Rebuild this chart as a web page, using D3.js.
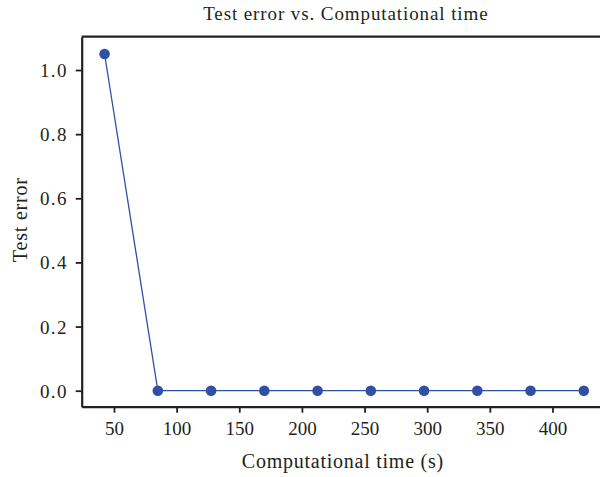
<!DOCTYPE html>
<html>
<head>
<meta charset="utf-8">
<script src="https://cdn.jsdelivr.net/npm/d3@7"></script>
<style>
  html, body { margin: 0; padding: 0; background: #fff; }
  svg { display: block; }
  text { font-family: "Liberation Serif", "Times New Roman", serif; fill: #231f20; }
</style>
</head>
<body>
<svg id="chart" width="600" height="477"></svg>
<script>
// Computational time (s) and the matching test error
const times = [42.5, 85, 127.5, 170, 212.5, 255, 297.5, 340, 382.5, 425];
const errors = [1.05, 0, 0, 0, 0, 0, 0, 0, 0, 0];
const xTicks = [50, 100, 150, 200, 250, 300, 350, 400];
const yTicks = [0, 0.2, 0.4, 0.6, 0.8, 1.0];

const titleText = "Test error vs. Computational time";
const xLabel = "Computational time (s)";
const yLabel = "Test error";

const ink = "#231f20";
const blue = "#3050a6";

const svg = d3.select("#chart");

// plot box (right edge runs past the visible page)
const boxL = 81.7, boxR = 610, boxT = 36.7, boxB = 406.7;

const x = d3.scaleLinear().domain([24.24, 445.9]).range([boxL, boxR]);
const y = d3.scaleLinear().domain([-0.0499, 1.1039]).range([boxB, boxT]);

// title
svg.append("text")
  .attr("x", (boxL + boxR) / 2)
  .attr("y", 20)
  .attr("text-anchor", "middle")
  .style("font-size", "19px")
  .style("letter-spacing", "0.9px")
  .text(titleText);

// top border of the plot box
svg.append("line")
  .attr("x1", boxL).attr("x2", boxR)
  .attr("y1", boxT).attr("y2", boxT)
  .attr("stroke", ink).attr("stroke-width", 2.2);

// x axis
const gx = svg.append("g")
  .attr("transform", `translate(0,${boxB})`)
  .call(d3.axisBottom(x).tickValues(xTicks).tickSize(6).tickSizeOuter(0).tickPadding(9));

// y axis
const gy = svg.append("g")
  .attr("transform", `translate(${boxL},0)`)
  .call(d3.axisLeft(y).tickValues(yTicks).tickFormat(d3.format(".1f")).tickSize(6).tickSizeOuter(0).tickPadding(9));

[gx, gy].forEach(g => {
  g.select(".domain").attr("stroke", ink).attr("stroke-width", 2.2);
  g.selectAll(".tick line").attr("stroke", ink).attr("stroke-width", 1.8);
  g.selectAll(".tick text")
    .attr("fill", ink)
    .style("font-family", "'Liberation Serif', 'Times New Roman', serif")
    .style("font-size", "19px");
});
gy.selectAll(".tick text")
  .attr("dy", "0.34em")
  .attr("x", -14)
  .style("letter-spacing", "1.3px");
gx.selectAll(".tick text").attr("dy", "0.72em");

// axis titles
svg.append("text")
  .attr("x", (boxL + boxR) / 2 - 3)
  .attr("y", 468)
  .attr("text-anchor", "middle")
  .style("font-size", "20px")
  .style("letter-spacing", "0.75px")
  .text(xLabel);

svg.append("text")
  .attr("transform", `translate(27,${(boxT + boxB) / 2 - 2}) rotate(-90)`)
  .attr("text-anchor", "middle")
  .style("font-size", "20px")
  .style("letter-spacing", "0.8px")
  .text(yLabel);

// series
const pts = times.map((t, i) => ({ t, e: errors[i] }));

svg.append("path")
  .datum(pts)
  .attr("fill", "none")
  .attr("stroke", blue)
  .attr("stroke-width", 1.3)
  .attr("d", d3.line().x(d => x(d.t)).y(d => y(d.e)));

svg.selectAll("circle.pt")
  .data(pts)
  .join("circle")
  .attr("class", "pt")
  .attr("cx", d => x(d.t))
  .attr("cy", d => y(d.e))
  .attr("r", 5.3)
  .attr("fill", blue);
</script>
</body>
</html>
